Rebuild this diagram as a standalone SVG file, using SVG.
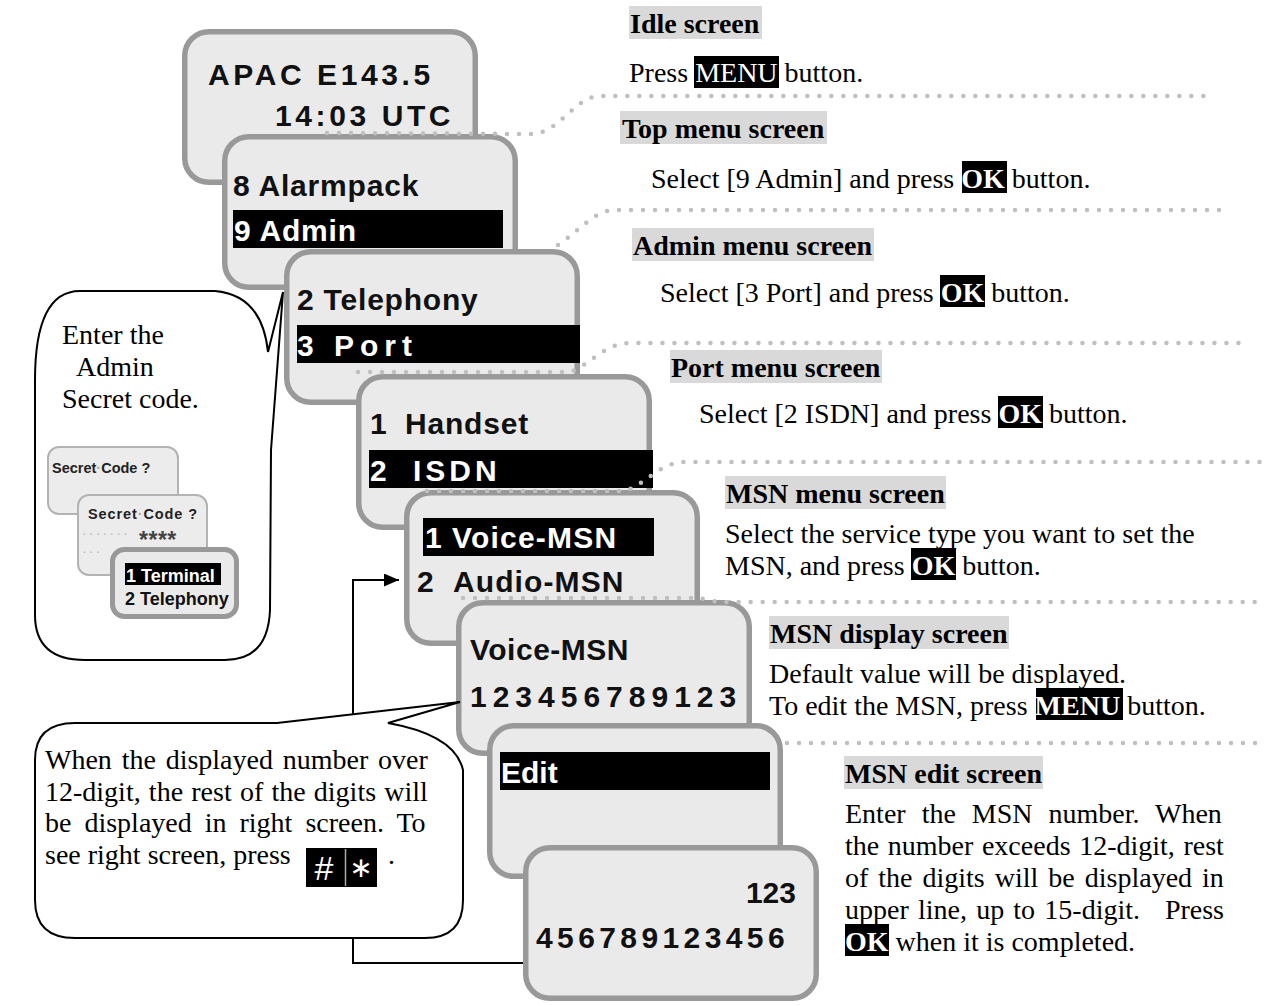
<svg xmlns="http://www.w3.org/2000/svg" width="1266" height="1005" viewBox="0 0 1266 1005">
<defs>
<style>
.scr{fill:#eaeaea;stroke:#999;stroke-width:5.5}
.lcd{font-family:"Liberation Sans",Arial,sans-serif;font-weight:bold;font-size:30px;fill:#111}
.w{fill:#fff}
.bar{fill:#000}
.hbg{fill:#d9d9d9}
.hd{font-family:"Liberation Serif","Times New Roman",serif;font-weight:bold;font-size:28px;fill:#000}
.tx{font-family:"Liberation Serif","Times New Roman",serif;font-size:28px;fill:#000}
.kb{font-weight:bold;fill:#fff}
.kr{fill:#fff}
.dots{fill:none;stroke:#bfbfbf;stroke-width:4.5;stroke-linecap:round;stroke-dasharray:0 12}
.bub{fill:#fff;stroke:#000;stroke-width:2}
.conn{fill:none;stroke:#000;stroke-width:2}
.mini{fill:#ececec;stroke:#b3b3b3;stroke-width:2}
.sm{font-family:"Liberation Sans",Arial,sans-serif;font-weight:bold;font-size:14.5px;fill:#222}
.key{font-family:"Liberation Sans",Arial,sans-serif;font-size:34px;fill:#fff}
</style>
<marker id="ah" markerUnits="userSpaceOnUse" viewBox="0 0 15 13" markerWidth="15" markerHeight="13" refX="15" refY="6.5" orient="auto"><path d="M0,0 L15,6.5 L0,13 Z" fill="#000"/></marker>
</defs>
<rect width="1266" height="1005" fill="#fff"/>

<!-- screens -->
<g id="idle-screen">
<rect class="scr" x="184.75" y="31.75" width="290.5" height="150.5" rx="24"/>
<text class="lcd" x="208" y="85" letter-spacing="3.6">APAC E143.5</text>
<text class="lcd" x="275" y="126" letter-spacing="3.6">14:03 UTC</text>
</g>
<g id="top-menu-screen">
<rect class="scr" x="224.75" y="136.75" width="290.5" height="150.5" rx="24"/>
<text class="lcd" x="233" y="196" letter-spacing="0.8">8 Alarmpack</text>
<rect class="bar" x="233" y="210" width="270" height="38"/>
<text class="lcd w" x="234" y="241" letter-spacing="0.8">9 Admin</text>
</g>
<g id="admin-menu-screen">
<rect class="scr" x="286.75" y="251.75" width="290.5" height="150.5" rx="24"/>
<text class="lcd" x="297" y="310" letter-spacing="0.8">2 Telephony</text>
<rect class="bar" x="297" y="325" width="283" height="38"/>
<text class="lcd w" x="297" y="356" letter-spacing="6">3 Port</text>
</g>
<g id="port-menu-screen">
<rect class="scr" x="358.75" y="376.75" width="290.5" height="150.5" rx="24"/>
<text class="lcd" x="370" y="434">1</text>
<text class="lcd" x="405" y="434" letter-spacing="0.8">Handset</text>
<rect class="bar" x="369" y="450" width="284" height="38"/>
<text class="lcd w" x="370" y="481">2</text>
<text class="lcd w" x="413" y="481" letter-spacing="4">ISDN</text>
</g>
<g id="msn-menu-screen">
<rect class="scr" x="406.75" y="492.75" width="290.5" height="150.5" rx="24"/>
<rect class="bar" x="423" y="518" width="231" height="38"/>
<text class="lcd w" x="425" y="548">1</text>
<text class="lcd w" x="452" y="548" letter-spacing="1.2">Voice-MSN</text>
<text class="lcd" x="417" y="592">2</text>
<text class="lcd" x="453" y="592" letter-spacing="1.1">Audio-MSN</text>
</g>
<g id="msn-display-screen">
<rect class="scr" x="458.75" y="602.75" width="290.5" height="150.5" rx="24"/>
<text class="lcd" x="470" y="660" letter-spacing="0.5">Voice-MSN</text>
<text class="lcd" x="470" y="707" letter-spacing="6">123456789123</text>
</g>
<g id="msn-edit-screen">
<rect class="scr" x="489.75" y="725.75" width="290.5" height="150.5" rx="24"/>
<rect class="bar" x="500" y="752" width="270" height="38"/>
<text class="lcd w" x="501" y="783">Edit</text>
</g>
<g id="msn-edit-screen-2">
<rect class="scr" x="525.75" y="847.75" width="290.5" height="150.5" rx="24"/>
<text class="lcd" x="796" y="903" text-anchor="end">123</text>
<text class="lcd" x="536" y="948" letter-spacing="4.4">456789123456</text>
</g>

<!-- callout: secret code -->
<g id="callout-secret">
<path class="bub" d="M35,380 Q35,291 80,291 L215,291 Q262,295 268,352 L283,292 L271,450 L270,610 Q268,660 225,660 L85,660 Q35,660 35,615 Z"/>
<text class="tx" x="62" y="344">Enter the</text>
<text class="tx" x="76" y="376">Admin</text>
<text class="tx" x="62" y="408">Secret code.</text>
<rect class="mini" x="48" y="447" width="130" height="67" rx="11"/>
<text class="sm" x="52" y="473">Secret<tspan fill="#aaa">·</tspan>Code ?</text>
<rect class="mini" x="78" y="495" width="129" height="80" rx="11"/>
<text class="sm" x="88" y="519" letter-spacing="0.9">Secret<tspan fill="#aaa">·</tspan>Code ?</text>
<text class="sm" x="82" y="538" style="fill:#bbb;font-weight:normal" letter-spacing="2">·······</text>
<text class="sm" x="139" y="548" style="font-size:23px;fill:#444" letter-spacing="0.5">****</text>
<text class="sm" x="82" y="556" style="fill:#bbb;font-weight:normal" letter-spacing="2">···</text>
<rect x="112.5" y="549.5" width="124" height="67" rx="12" fill="#eaeaea" stroke="#999" stroke-width="5"/>
<rect class="bar" x="125" y="563" width="96" height="22"/>
<text class="sm" x="126" y="582" style="font-size:18px;fill:#fff">1 Terminal</text>
<text class="sm" x="125" y="605" style="font-size:18px;fill:#111">2 Telephony</text>
</g>

<!-- callout: right screen -->
<g id="callout-right-screen">
<path class="bub" d="M35,760 Q35,723 75,723 L277,723 L460,702 L388,723 Q455,735 463,770 L463,900 Q463,938 425,938 L75,938 Q35,938 35,900 Z"/>
<text class="tx" x="45" y="769" word-spacing="2.8">When the displayed number over</text>
<text class="tx" x="45" y="801" word-spacing="1.2">12-digit, the rest of the digits will</text>
<text class="tx" x="45" y="832" word-spacing="6">be displayed in right screen. To</text>
<text class="tx" x="45" y="864">see right screen, press</text>
<rect class="bar" x="306" y="848" width="36" height="39"/>
<text class="key" x="324" y="880" text-anchor="middle" style="font-weight:normal">#</text>
<rect class="bar" x="342" y="848" width="35" height="39"/>
<line x1="345.5" y1="849" x2="345.5" y2="886" stroke="#aaa" stroke-width="1.5"/>
<text class="key" x="361" y="877" text-anchor="middle" style="font-family:'DejaVu Sans',sans-serif;font-size:28px">∗</text>
<text class="tx" x="388" y="864">.</text>
</g>

<!-- right column texts -->
<g id="step-idle">
<rect class="hbg" x="629" y="6" width="133" height="33"/>
<text class="hd" x="630" y="33">Idle screen</text>
<rect class="bar" x="694" y="56" width="85" height="32"/>
<text class="tx" x="629" y="82">Press <tspan class="kr">MENU</tspan> button.</text>
</g>
<g id="step-top">
<rect class="hbg" x="620" y="111" width="207" height="33"/>
<text class="hd" x="622" y="138">Top menu screen</text>
<rect class="bar" x="962" y="161" width="45" height="32"/>
<text class="tx" x="651" y="188">Select [9 Admin] and press <tspan class="kb">OK</tspan> button.</text>
</g>
<g id="step-admin">
<rect class="hbg" x="632" y="228" width="242" height="33"/>
<text class="hd" x="633" y="255">Admin menu screen</text>
<rect class="bar" x="940" y="275" width="45" height="32"/>
<text class="tx" x="660" y="302">Select [3 Port] and press <tspan class="kb">OK</tspan> button.</text>
</g>
<g id="step-port">
<rect class="hbg" x="670" y="350" width="212" height="33"/>
<text class="hd" x="671" y="377">Port menu screen</text>
<rect class="bar" x="998" y="396" width="45" height="32"/>
<text class="tx" x="699" y="423">Select [2 ISDN] and press <tspan class="kb">OK</tspan> button.</text>
</g>
<g id="step-msn-menu">
<rect class="hbg" x="725" y="476" width="221" height="33"/>
<text class="hd" x="726" y="503">MSN menu screen</text>
<text class="tx" x="725" y="543">Select the service type you want to set the</text>
<rect class="bar" x="911" y="548" width="45" height="32"/>
<text class="tx" x="725" y="575">MSN, and press <tspan class="kb">OK</tspan> button.</text>
</g>
<g id="step-msn-display">
<rect class="hbg" x="769" y="616" width="240" height="33"/>
<text class="hd" x="770" y="643">MSN display screen</text>
<text class="tx" x="769" y="683">Default value will be displayed.</text>
<rect class="bar" x="1036" y="688" width="87" height="32"/>
<text class="tx" x="769" y="715">To edit the MSN, press <tspan class="kb">MENU</tspan> button.</text>
</g>
<g id="step-msn-edit">
<rect class="hbg" x="844" y="756" width="199" height="33"/>
<text class="hd" x="845" y="783">MSN edit screen</text>
<text class="tx" x="845" y="823" word-spacing="9">Enter the MSN number. When</text>
<text class="tx" x="845" y="855" word-spacing="1.6">the number exceeds 12-digit, rest</text>
<text class="tx" x="845" y="887" word-spacing="3">of the digits will be displayed in</text>
<text class="tx" x="845" y="919" word-spacing="2.2">upper line, up to 15-digit.</text>
<text class="tx" x="1224" y="919" text-anchor="end">Press</text>
<rect class="bar" x="845" y="924" width="44" height="32"/>
<text class="tx" x="845" y="951"><tspan class="kb">OK</tspan> when it is completed.</text>
</g>

<!-- connectors -->
<g id="connectors">
<path class="dots" d="M327,133 L532,134 C560,133 575,96 600,96 L1213,96"/>
<path class="dots" d="M558,245 C580,230 595,210 615,210 L1228,210"/>
<path class="dots" d="M358,372 L570,372 C590,365 605,343 630,343 L1247,343"/>
<path class="dots" d="M427,491 L625,491 C645,485 660,462 685,462 L1266,462"/>
<path class="dots" d="M463,598 L700,598 Q712,602 730,602 L1266,602"/>
<path class="dots" d="M787,743 L1266,743"/>
<path class="conn" d="M353,714 V580 H399" marker-end="url(#ah)"/>
<path class="conn" d="M353,938 V963 H523"/>
</g>
</svg>
